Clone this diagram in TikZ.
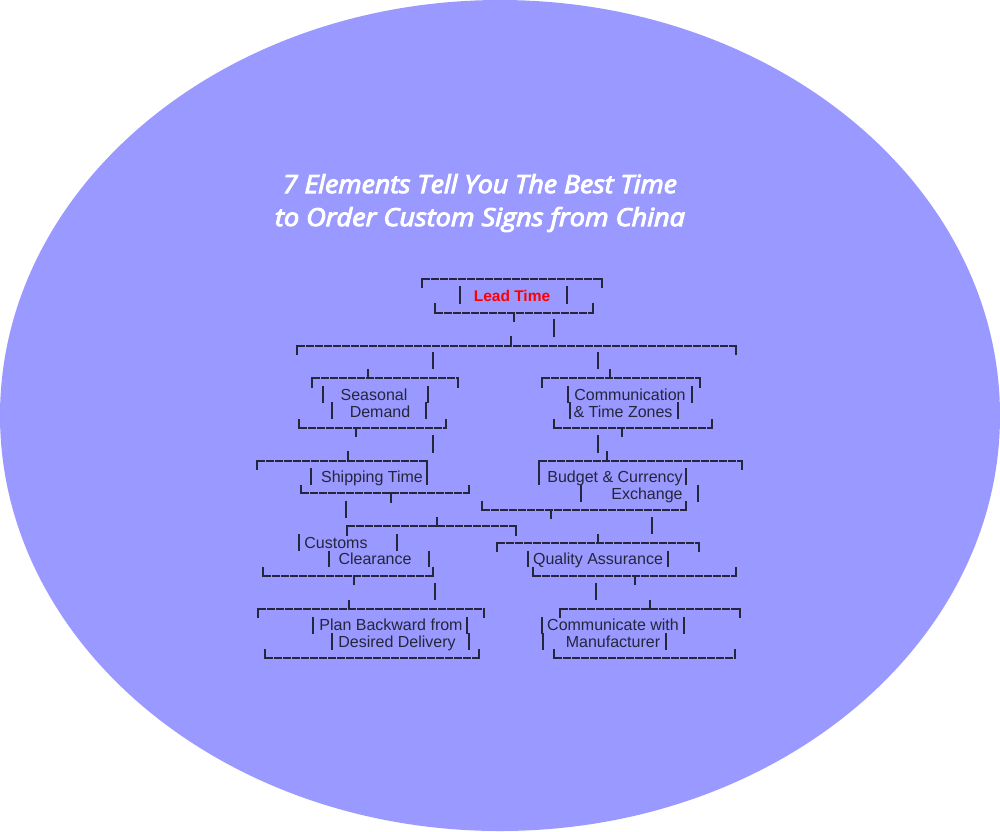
\documentclass[tikz,border=0pt]{standalone}
\usepackage{fontspec}
\setmainfont{Liberation Sans}
\newfontfamily\titlefont[FakeBold=4,ItalicFeatures={FakeBold=4}]{Open Sans}
\definecolor{oval}{HTML}{9999FF}
\definecolor{ink}{HTML}{25253C}
\begin{document}
\begin{tikzpicture}[x=1pt,y=-1pt,
  wire/.style={draw=ink,line width=1.2pt,line cap=rect},
  bracket/.style={draw=ink,line width=1.2pt,dash pattern=on 8.3pt off 0.7pt},
  itemtext/.style={anchor=base,inner sep=0pt,text=ink,font=\fontsize{16}{18}\selectfont},
  leadtext/.style={itemtext,text=red,font=\fontsize{15.5}{18}\selectfont\bfseries},
  titletext/.style={anchor=base,inner sep=0pt,text=white,font=\titlefont\itshape}]
  \useasboundingbox (0,0) rectangle (1000,831);
  \fill[oval] (500,415.5) ellipse [x radius=500, y radius=415.5];

  \node[titletext] (title1) at (480,193) {\resizebox{394pt}{19pt}{7 Elements Tell You The Best Time}};
  \node[titletext] (title2) at (480,226) {\resizebox{410pt}{19pt}{to Order Custom Signs from China}};

  % lead time
  \draw[wire] (422,287) -- (422,279) (602,279) -- (602,287);
  \draw[bracket] (422,279) -- (602,279);
  \draw[wire] (460,287) -- (460,303) (567,287) -- (567,303);
  \node[leadtext] (lead) at (512,301) {Lead Time};
  \draw[wire] (435,304) -- (435,313) (593,313) -- (593,304);
  \draw[bracket] (435,313) -- (593,313);
  \draw[wire] (514,313) -- (514,321);
  \draw[wire] (554,320) -- (554,336);
  \draw[wire] (297,354) -- (297,346) (736,346) -- (736,354);
  \draw[bracket] (297,346) -- (736,346);
  \draw[wire] (511,346) -- (511,337);
  \draw[wire] (433,353) -- (433,368) (598,353) -- (598,368);

  % seasonal demand
  \draw[wire] (312,387) -- (312,378) (458,378) -- (458,387);
  \draw[bracket] (312,378) -- (458,378);
  \draw[wire] (368,378) -- (368,370);
  \draw[wire] (323,387) -- (323,402) (428,387) -- (428,402);
  \node[itemtext] (season) at (374,400) {Seasonal};
  \draw[wire] (332,403) -- (332,418) (426,403) -- (426,418);
  \node[itemtext] (demand) at (380,417) {Demand};
  \draw[wire] (299,420) -- (299,428) (446,428) -- (446,420);
  \draw[bracket] (299,428) -- (446,428);
  \draw[wire] (356,428) -- (356,436);
  \draw[wire] (433,436) -- (433,452);

  % communication
  \draw[wire] (542,387) -- (542,378) (700,378) -- (700,387);
  \draw[bracket] (542,378) -- (700,378);
  \draw[wire] (610,378) -- (610,370);
  \draw[wire] (568,387) -- (568,402) (692,387) -- (692,402);
  \node[itemtext] (comm) at (630,400) {Communication};
  \draw[wire] (570,403) -- (570,418) (678,403) -- (678,418);
  \node[itemtext] (zones) at (623,417) {\& Time Zones};
  \draw[wire] (554,420) -- (554,428) (712,428) -- (712,420);
  \draw[bracket] (554,428) -- (712,428);
  \draw[wire] (622,428) -- (622,436);
  \draw[wire] (598,436) -- (598,452);

  % shipping time
  \draw[wire] (257,469) -- (257,461) (427,461) -- (427,469);
  \draw[bracket] (257,461) -- (427,461);
  \draw[wire] (348,461) -- (348,452);
  \draw[wire] (311,469) -- (311,484) (427,469) -- (427,484);
  \node[itemtext] (ship) at (372,482) {Shipping Time};
  \draw[wire] (301,486) -- (301,493) (469,493) -- (469,486);
  \draw[bracket] (301,493) -- (469,493);
  \draw[wire] (391,493) -- (391,502);
  \draw[wire] (346,502) -- (346,517);

  % budget
  \draw[wire] (539,469) -- (539,461) (742,461) -- (742,469);
  \draw[bracket] (539,461) -- (742,461);
  \draw[wire] (607,461) -- (607,452);
  \draw[wire] (539,469) -- (539,484) (686,469) -- (686,484);
  \node[itemtext] (budget) at (615,482) {Budget \& Currency};
  \draw[wire] (581,486) -- (581,501) (698,486) -- (698,501);
  \node[itemtext] (exch) at (647,499) {Exchange};
  \draw[wire] (482,502) -- (482,510) (686,510) -- (686,502);
  \draw[bracket] (482,510) -- (686,510);
  \draw[wire] (551,510) -- (551,518);
  \draw[wire] (652,518) -- (652,533);

  % customs
  \draw[wire] (347,535) -- (347,526) (516,526) -- (516,535);
  \draw[bracket] (347,526) -- (516,526);
  \draw[wire] (437,526) -- (437,518);
  \draw[wire] (299,535) -- (299,550) (397,535) -- (397,550);
  \node[itemtext] (customs) at (336,548) {Customs};
  \draw[wire] (329,552) -- (329,566) (429,552) -- (429,566);
  \node[itemtext] (clear) at (375,564) {Clearance};
  \draw[wire] (263,568) -- (263,576) (433,576) -- (433,568);
  \draw[bracket] (263,576) -- (433,576);
  \draw[wire] (354,576) -- (354,584);
  \draw[wire] (435,584) -- (435,599);

  % quality
  \draw[wire] (497,551) -- (497,543) (699,543) -- (699,551);
  \draw[bracket] (497,543) -- (699,543);
  \draw[wire] (598,543) -- (598,535);
  \draw[wire] (528,552) -- (528,566) (668,552) -- (668,566);
  \node[itemtext] (quality) at (598,564) {Quality Assurance};
  \draw[wire] (533,568) -- (533,576) (736,576) -- (736,568);
  \draw[bracket] (533,576) -- (736,576);
  \draw[wire] (635,576) -- (635,584);
  \draw[wire] (596,584) -- (596,599);

  % plan backward
  \draw[wire] (258,617) -- (258,609) (484,609) -- (484,617);
  \draw[bracket] (258,609) -- (484,609);
  \draw[wire] (349,609) -- (349,601);
  \draw[wire] (313,618) -- (313,633) (467,618) -- (467,633);
  \node[itemtext] (plan) at (391,630) {Plan Backward from};
  \draw[wire] (332,634) -- (332,649) (469,634) -- (469,649);
  \node[itemtext] (desired) at (397,647) {Desired Delivery};
  \draw[wire] (265,650) -- (265,658) (479,658) -- (479,650);
  \draw[bracket] (265,658) -- (479,658);

  % manufacturer
  \draw[wire] (560,617) -- (560,609) (740,609) -- (740,617);
  \draw[bracket] (560,609) -- (740,609);
  \draw[wire] (650,609) -- (650,601);
  \draw[wire] (542,618) -- (542,633) (684,618) -- (684,633);
  \node[itemtext] (talk) at (613,630) {Communicate with};
  \draw[wire] (543,634) -- (543,649) (666,634) -- (666,649);
  \node[itemtext] (maker) at (613,647) {Manufacturer};
  \draw[wire] (554,650) -- (554,658) (735,658) -- (735,650);
  \draw[bracket] (554,658) -- (735,658);
\end{tikzpicture}
\end{document}
